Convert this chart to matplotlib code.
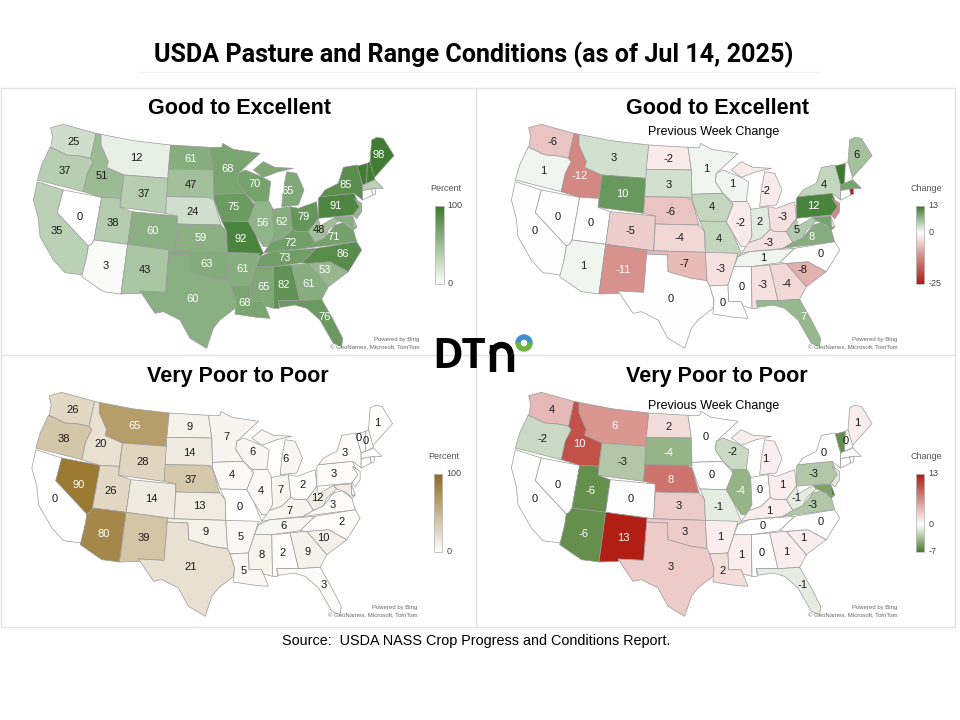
import numpy as np
import matplotlib
matplotlib.use('Agg')
import matplotlib.pyplot as plt
from matplotlib.collections import PolyCollection
from matplotlib.colors import LinearSegmentedColormap, Normalize, TwoSlopeNorm
from matplotlib.patches import Wedge, Rectangle, Arc

plt.rcParams['font.family'] = ['Liberation Sans', 'DejaVu Sans']

states = ['WA', 'OR', 'CA', 'NV', 'ID', 'MT', 'WY', 'UT', 'AZ', 'CO', 'NM', 'ND', 'SD', 'NE', 'KS', 'OK',
          'TX', 'MN', 'IA', 'MO', 'AR', 'LA', 'WI', 'IL', 'MS', 'MI', 'IN', 'OH', 'KY', 'TN', 'AL', 'GA',
          'FL', 'SC', 'NC', 'VA', 'WV', 'PA', 'NY', 'ME', 'VT', 'NH', 'MA', 'CT', 'RI', 'NJ', 'DE', 'MD']
good_excellent = [25, 37, 35, 0, 51, 12, 37, 38, 3, 60, 43, 61, 47, 24, 59, 63,
                  60, 68, 75, 92, 61, 68, 70, 56, 65, 65, 62, 79, 72, 73, 82, 61,
                  76, 53, 86, 71, 48, 91, 85, 98, 98, 98, 35, 0, 0, 55, 45, 60]
good_change = [-6, 1, 0, 0, -12, 3, 10, 0, 1, -5, -11, -2, 3, -6, -4, -7,
               0, 1, 4, 4, -3, 0, 1, -2, 0, -2, 2, -3, -3, 1, -3, -4,
               7, -8, 0, 8, 5, 12, 4, 6, 13, 0, 9, 0, -25, -12, -3, 9]
very_poor = [26, 38, 0, 90, 20, 65, 28, 26, 80, 14, 39, 9, 14, 37, 13, 9,
             21, 7, 4, 0, 5, 5, 6, 4, 8, 6, 7, 2, 7, 6, 2, 9,
             3, 10, 2, 3, 12, 3, 3, 1, 0, 0, 0, 0, 0, 3, 5, 12]
poor_change = [4, -2, 0, 0, 10, 6, -3, -6, -6, 0, 13, 2, -4, 8, 3, 3,
               3, 0, 0, -1, 1, 2, -2, -4, 1, 1, 0, 1, 1, 0, 0, 1,
               -1, 1, 0, -3, -1, -3, 0, 1, -6, 0, 0, 0, 0, -1, -7, -5]

# outlines and label spots, in 3x panel units
shapes = {
    'WA': [[(152, 113), (190, 103), (288, 130), (272, 205), (240, 198), (200, 195), (170, 180), (152, 172), (158, 140)]],
    'OR': [[(150, 172), (170, 180), (200, 195), (240, 198), (272, 205), (280, 215), (262, 250), (250, 305), (112, 270), (125, 225)]],
    'CA': [[(112, 275), (190, 300), (172, 368), (265, 468), (262, 490), (258, 510), (248, 555), (195, 548), (160, 510), (120, 440), (115, 385), (100, 330)]],
    'NV': [[(190, 300), (305, 322), (282, 450), (275, 462), (265, 468), (172, 368)]],
    'ID': [[(288, 130), (303, 133), (303, 165), (325, 215), (320, 232), (372, 255), (362, 325), (305, 322), (250, 305), (262, 250), (280, 215), (272, 205)]],
    'MT': [[(303, 133), (400, 152), (512, 165), (505, 265), (372, 255), (320, 232), (325, 215), (303, 165)]],
    'WY': [[(372, 255), (505, 265), (497, 370), (360, 352)]],
    'UT': [[(305, 322), (362, 325), (360, 352), (397, 365), (383, 463), (282, 450)]],
    'AZ': [[(282, 450), (383, 463), (363, 612), (310, 605), (245, 560), (258, 510), (262, 490), (265, 468), (275, 462)]],
    'CO': [[(397, 365), (532, 378), (527, 482), (383, 463)]],
    'NM': [[(383, 463), (507, 480), (497, 607), (420, 603), (422, 610), (363, 612)]],
    'ND': [[(512, 165), (630, 172), (640, 240), (505, 238)]],
    'SD': [[(505, 238), (640, 240), (642, 325), (625, 322), (500, 320)]],
    'NE': [[(500, 320), (625, 322), (642, 330), (663, 405), (532, 402), (532, 378), (497, 370)]],
    'KS': [[(532, 402), (663, 405), (680, 425), (682, 487), (527, 482)]],
    'OK': [[(507, 482), (682, 487), (687, 572), (640, 565), (570, 545), (568, 495), (506, 492)]],
    'TX': [[(506, 492), (568, 495), (570, 545), (640, 565), (687, 572), (695, 585), (708, 630), (705, 655), (660, 690),
            (640, 715), (620, 775), (570, 745), (540, 690), (490, 665), (465, 670), (420, 603), (497, 607)]],
    'MN': [[(630, 172), (665, 172), (668, 160), (700, 178), (780, 190), (715, 250), (712, 275), (735, 310), (642, 313), (640, 240)]],
    'IA': [[(642, 313), (735, 310), (765, 345), (745, 395), (665, 393), (642, 330)]],
    'MO': [[(665, 393), (745, 395), (765, 430), (790, 490), (780, 500), (682, 487), (680, 425)]],
    'AR': [[(682, 487), (780, 490), (768, 530), (750, 585), (695, 588), (687, 572)]],
    'LA': [[(695, 588), (750, 585), (752, 635), (790, 635), (810, 685), (770, 682), (705, 672), (708, 630)]],
    'WI': [[(715, 250), (735, 240), (785, 260), (812, 275), (805, 335), (762, 335), (735, 310), (712, 275)]],
    'IL': [[(762, 335), (808, 335), (820, 360), (822, 440), (810, 470), (790, 470), (765, 430), (745, 395), (765, 345)]],
    'MS': [[(768, 530), (820, 530), (822, 655), (795, 648), (790, 635), (752, 635), (750, 585)]],
    'MI': [[(860, 245), (890, 250), (912, 300), (895, 345), (845, 350), (850, 300)],
           [(760, 240), (790, 215), (825, 232), (880, 235), (835, 245), (790, 262)]],
    'IN': [[(818, 358), (870, 350), (877, 418), (850, 445), (812, 458), (822, 440)]],
    'OH': [[(870, 350), (895, 355), (950, 335), (955, 385), (925, 425), (890, 425), (877, 418)]],
    'KY': [[(790, 490), (812, 458), (850, 445), (877, 418), (890, 425), (925, 425), (945, 457), (915, 475), (815, 485)]],
    'TN': [[(780, 500), (815, 485), (950, 475), (905, 518), (820, 530), (768, 530)]],
    'AL': [[(820, 530), (875, 525), (900, 632), (835, 632), (838, 655), (822, 655)]],
    'GA': [[(875, 525), (925, 520), (985, 590), (965, 628), (900, 632)]],
    'FL': [[(835, 632), (900, 632), (965, 628), (1000, 690), (1028, 745), (1025, 770), (1000, 760), (960, 690), (920, 655), (885, 645), (840, 652)]],
    'SC': [[(925, 520), (990, 515), (1045, 545), (985, 590)]],
    'NC': [[(905, 518), (950, 475), (1070, 455), (1085, 480), (1045, 545), (990, 515), (925, 520)]],
    'VA': [[(915, 475), (945, 457), (975, 443), (1005, 405), (1030, 398), (1060, 420), (1070, 455)]],
    'WV': [[(925, 425), (955, 385), (960, 408), (1005, 382), (1015, 393), (985, 420), (975, 443), (945, 457)]],
    'PA': [[(955, 325), (960, 320), (1062, 310), (1080, 350), (1060, 375), (955, 385)]],
    'NY': [[(975, 300), (1015, 280), (1030, 232), (1072, 225), (1088, 285), (1088, 330), (1062, 310), (960, 320)]],
    'ME': [[(1115, 150), (1130, 142), (1150, 145), (1182, 197), (1130, 255), (1122, 265), (1110, 215)]],
    'VT': [[(1072, 228), (1102, 220), (1100, 280), (1088, 285)]],
    'NH': [[(1102, 220), (1110, 215), (1125, 268), (1100, 280)]],
    'MA': [[(1088, 285), (1125, 270), (1150, 295), (1127, 295), (1088, 302)]],
    'CT': [[(1088, 302), (1115, 297), (1118, 315), (1088, 330)]],
    'RI': [[(1115, 297), (1127, 295), (1127, 312), (1118, 315)]],
    'NJ': [[(1062, 325), (1085, 340), (1085, 365), (1070, 387), (1060, 375), (1078, 350)]],
    'DE': [[(1058, 378), (1070, 410), (1060, 412)]],
    'MD': [[(1005, 382), (1058, 378), (1060, 412), (1070, 412), (1060, 420), (1045, 405), (1030, 398), (1015, 393)]],
}
label_spots = {
    'WA': (222, 155), 'OR': (195, 242), 'CA': (170, 422), 'NV': (240, 380), 'ID': (305, 257), 'MT': (408, 203),
    'WY': (432, 313), 'UT': (338, 398), 'AZ': (317, 528), 'CO': (458, 422), 'NM': (435, 541), 'ND': (572, 208),
    'SD': (572, 285), 'NE': (577, 365), 'KS': (603, 445), 'OK': (620, 522), 'TX': (578, 628), 'MN': (684, 238),
    'IA': (700, 350), 'MO': (723, 447), 'AR': (727, 538), 'LA': (735, 640), 'WI': (763, 281), 'IL': (787, 400),
    'MS': (790, 592), 'MI': (862, 303), 'IN': (845, 397), 'OH': (912, 380), 'KY': (873, 460), 'TN': (855, 505),
    'AL': (852, 586), 'GA': (926, 582), 'FL': (975, 680), 'SC': (975, 540), 'NC': (1028, 491), 'VA': (1002, 440),
    'WV': (957, 420), 'PA': (1007, 348), 'NY': (1038, 285), 'ME': (1137, 195), 'VT': (1082, 240), 'NH': (1102, 250),
}

green = LinearSegmentedColormap.from_list('green', ['#ffffff', '#3c7a2e'])
brown = LinearSegmentedColormap.from_list('brown', ['#ffffff', '#8f6a1c'])
red_green = LinearSegmentedColormap.from_list('rg', [(0, '#b01e14'), (0.25, '#d28480'), (0.5, '#ffffff'), (1, '#3c7a2e')])
green_red = LinearSegmentedColormap.from_list('gr', ['#4a7d30', '#ffffff', '#b01e14'])

# values, title, subtitle, colormap, norm, legend title, legend ticks, hidden labels, panel origin
small_states = {'MA', 'CT', 'RI', 'NJ', 'DE', 'MD'}
panels = [
    (good_excellent, 'Good to Excellent', None, green, Normalize(0, 100), 'Percent', [100, 0],
     small_states | {'VT', 'NH'}, (0, 90), 1305),
    (good_change, 'Good to Excellent', 'Previous Week Change', red_green, TwoSlopeNorm(0, -25, 13), 'Change', [13, 0, -25],
     small_states | {'VT', 'NH'}, (478, 90), 1313),
    (very_poor, 'Very Poor to Poor', None, brown, Normalize(0, 100), 'Percent', [100, 0],
     small_states, (-1.5, 358), 1305),
    (poor_change, 'Very Poor to Poor', 'Previous Week Change', green_red, TwoSlopeNorm(0, -7, 13), 'Change', [13, 0, -7],
     small_states | {'VT'}, (478, 358), 1313),
]

fig = plt.figure(figsize=(9.6, 7.2), dpi=100)

# page layer in pixels
bg = fig.add_axes([0, 0, 1, 1])
bg.set_xlim(0, 960)
bg.set_ylim(720, 0)
bg.axis('off')
frame = '#e2e2e2'
bg.add_patch(Rectangle((1, 88), 954, 539, fill=False, ec=frame, lw=1))
bg.plot([476, 476], [88, 627], color=frame, lw=1)
bg.plot([1, 955], [355, 355], color=frame, lw=1)
bg.plot([138, 820], [72, 72], color='#f2f2f2', lw=1)
bg.text(473.5, 55, 'USDA Pasture and Range Conditions (as of Jul 14, 2025)', ha='center', va='center',
        fontsize=18.1, fontweight='bold', family=['Roboto', 'Liberation Sans'], color='black')
bg.text(476, 641, 'Source:  USDA NASS Crop Progress and Conditions Report.', ha='center', va='center',
        fontsize=10.4, color='black')

for values, title, subtitle, cmap, norm, legend_title, ticks, hidden, origin, bar_x in panels:
    ax = fig.add_axes([origin[0] / 960, 1 - (origin[1] + 265) / 720, 475 / 960, 265 / 720])
    ax.set_xlim(0, 1425)
    ax.set_ylim(795, 0)
    ax.axis('off')
    ax.patch.set_alpha(0)

    polys = []
    poly_values = []
    for st, val in zip(states, values):
        for outline in shapes[st]:
            polys.append(outline)
            poly_values.append(val)
    ax.add_collection(PolyCollection(polys, array=np.array(poly_values, dtype=float), cmap=cmap, norm=norm,
                                     edgecolors='#9a9a9a', linewidths=0.5))

    for st, val in zip(states, values):
        if st in hidden:
            continue
        r, g, b, _ = cmap(norm(val))
        lum = 0.299 * r + 0.587 * g + 0.114 * b
        ax.text(*label_spots[st], str(val), ha='center', va='center', fontsize=8,
                color='white' if lum < 0.675 else '#1a1a1a')

    ax.text(717, 56, title, ha='center', va='center', fontsize=15.5, fontweight='bold', color='black')
    if subtitle:
        sub_y = 127 if title.startswith('Good') else 143
        ax.text(707, sub_y, subtitle, ha='center', va='center', fontsize=9, color='black')

    # legend bar, linear in value
    hi, lo = ticks[0], ticks[-1]
    bar = np.linspace(hi, lo, 200).reshape(-1, 1)
    ax.imshow(bar, cmap=cmap, norm=norm, extent=(bar_x, bar_x + 26, 581, 348), aspect='auto', zorder=2)
    ax.add_patch(Rectangle((bar_x, 348), 26, 233, fill=False, ec='#bdbdbd', lw=0.6, zorder=3))
    ax.set_xlim(0, 1425)
    ax.set_ylim(795, 0)
    ax.text(bar_x + 32, 295, legend_title, ha='center', va='center', fontsize=6.5, color='#555555')
    for t in ticks:
        y = 348 + (hi - t) / (hi - lo) * 233
        ax.text(bar_x + 38, y, str(t), ha='left', va='center', fontsize=6.5, color='#444444')

    ax.text(1258, 748, 'Powered by Bing', ha='right', va='center', fontsize=4.3, color='#666666')
    ax.text(1258, 773, '© GeoNames, Microsoft, TomTom', ha='right', va='center', fontsize=4.3, color='#666666')

# logo on top of the panel grid
bg.set_zorder(5)
bg.text(432, 358, 'DT', ha='left', va='center', fontsize=30, fontweight='bold', family=['Open Sans', 'Liberation Sans'],
        color='black')
stroke = 4.6
bg.plot([492.5, 492.5], [345, 372], color='black', lw=stroke, solid_capstyle='butt')
bg.plot([510.5, 510.5], [354, 372], color='black', lw=stroke, solid_capstyle='butt')
bg.add_patch(Arc((501.5, 354), 18, 18, theta1=180, theta2=360, color='black', lw=stroke))
bg.add_patch(Wedge((524, 343), 8, 180, 360, width=4, color='#3f8fd0'))
bg.add_patch(Wedge((524, 343), 8, 0, 180, width=4, color='#6cb33f'))

fig.savefig('out.png', dpi=100, facecolor='white')
